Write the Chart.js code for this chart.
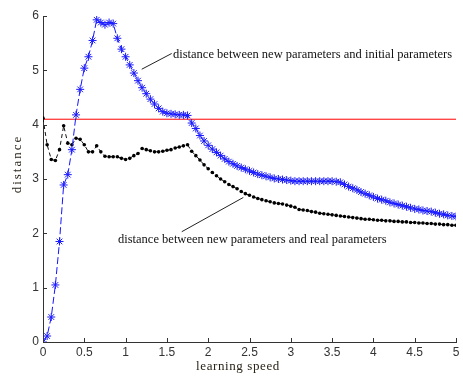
<!DOCTYPE html>
<html>
<head>
<meta charset="utf-8">
<script src="https://cdn.jsdelivr.net/npm/chart.js@4.4.1/dist/chart.umd.min.js"></script>
<style>
  html, body { margin: 0; padding: 0; background: #fff; }
  canvas { display: block; }
</style>
</head>
<body>
<canvas id="chartDistance" width="463" height="378"></canvas>
<script>
// learning speed sampled every 0.05 from 0 to 5
var speeds = Array.from({ length: 101 }, function (_, i) { return Math.round(i * 5) / 100; });

var initialDist = [
  0.00, 0.11, 0.46, 1.05, 1.85, 2.89, 3.08, 3.54, 4.18, 4.65,
  5.04, 5.25, 5.55, 5.93, 5.88, 5.84, 5.88, 5.86, 5.59, 5.39,
  5.25, 5.10, 4.95, 4.81, 4.68, 4.57, 4.47, 4.38, 4.30, 4.24,
  4.21, 4.20, 4.19, 4.18, 4.18, 4.17, 4.03, 3.93, 3.80, 3.70,
  3.62, 3.55, 3.49, 3.43, 3.37, 3.32, 3.28, 3.24, 3.21, 3.18,
  3.15, 3.12, 3.09, 3.07, 3.05, 3.03, 3.01, 3.00, 2.99, 2.98,
  2.97, 2.96, 2.96, 2.96, 2.96, 2.96, 2.96, 2.96, 2.96, 2.96,
  2.96, 2.95, 2.94, 2.90, 2.86, 2.83, 2.80, 2.76, 2.73, 2.70,
  2.67, 2.64, 2.62, 2.60, 2.57, 2.55, 2.53, 2.51, 2.49, 2.47,
  2.45, 2.44, 2.42, 2.41, 2.40, 2.38, 2.36, 2.35, 2.33, 2.32,
  2.31
];

var realDist = [
  4.12, 3.63, 3.36, 3.34, 3.54, 3.98, 3.66, 3.63, 3.75, 3.73,
  3.63, 3.50, 3.50, 3.61, 3.50, 3.42, 3.41, 3.41, 3.41, 3.38,
  3.36, 3.38, 3.43, 3.47, 3.56, 3.54, 3.52, 3.50, 3.50, 3.51,
  3.53, 3.54, 3.57, 3.59, 3.61, 3.63, 3.51, 3.43, 3.35, 3.26,
  3.19, 3.12, 3.06, 3.00, 2.95, 2.90, 2.86, 2.82, 2.77, 2.73,
  2.70, 2.67, 2.64, 2.62, 2.60, 2.58, 2.56, 2.55, 2.54, 2.52,
  2.50, 2.48, 2.44, 2.43, 2.42, 2.40, 2.39, 2.37, 2.36, 2.35,
  2.34, 2.33, 2.32, 2.31, 2.30, 2.29, 2.28, 2.27, 2.26, 2.26,
  2.25, 2.24, 2.24, 2.23, 2.23, 2.22, 2.22, 2.21, 2.21, 2.20,
  2.20, 2.19, 2.19, 2.18, 2.18, 2.17, 2.17, 2.16, 2.16, 2.15,
  2.15
];

var refLevel = 4.1;

var xTicks = [0, 0.5, 1, 1.5, 2, 2.5, 3, 3.5, 4, 4.5, 5];
var yTicks = [0, 1, 2, 3, 4, 5, 6];

var labelInitial = "distance between new parameters and initial parameters";
var labelReal = "distance between new parameters and real parameters";

function toPoints(xs, ys) {
  return xs.map(function (x, i) { return { x: x, y: ys[i] }; });
}

var serif = '"Liberation Serif", "DejaVu Serif", serif';
var sans = '"Liberation Sans", Arial, sans-serif';

// inside tick marks, axis titles and the two callouts
var extras = {
  id: 'extras',
  afterDatasetsDraw: function (chart) {
    var ctx = chart.ctx, area = chart.chartArea;
    var x = chart.scales.x, y = chart.scales.y;
    ctx.save();
    ctx.strokeStyle = '#333';
    ctx.lineWidth = 1;
    ctx.beginPath();
    xTicks.forEach(function (v) {
      var px = Math.round(x.getPixelForValue(v)) + 0.5;
      ctx.moveTo(px, area.bottom);
      ctx.lineTo(px, area.bottom - 4);
    });
    yTicks.forEach(function (v) {
      var py = Math.round(y.getPixelForValue(v)) + 0.5;
      ctx.moveTo(area.left, py);
      ctx.lineTo(area.left + 4, py);
    });
    ctx.stroke();

    // leader lines
    ctx.strokeStyle = '#222';
    ctx.beginPath();
    ctx.moveTo(x.getPixelForValue(1.195), y.getPixelForValue(5.02));
    ctx.lineTo(x.getPixelForValue(1.558), y.getPixelForValue(5.31));
    ctx.moveTo(x.getPixelForValue(1.68), y.getPixelForValue(2.03));
    ctx.lineTo(x.getPixelForValue(2.425), y.getPixelForValue(2.66));
    ctx.stroke();

    ctx.fillStyle = '#111';
    ctx.font = '12.5px ' + serif;
    ctx.textBaseline = 'middle';
    ctx.textAlign = 'left';
    ctx.fillText(labelInitial, x.getPixelForValue(1.574), y.getPixelForValue(5.29));
    ctx.fillText(labelReal, x.getPixelForValue(0.908), y.getPixelForValue(1.88));

    // axis titles
    ctx.fillStyle = '#2a2418';
    ctx.font = '13px ' + serif;
    ctx.textAlign = 'center';
    ctx.letterSpacing = '0.6px';
    ctx.fillText('learning speed', 238, 367);
    ctx.letterSpacing = '2px';
    ctx.translate(18, 164);
    ctx.rotate(-Math.PI / 2);
    ctx.fillText('distance', 0, 0);
    ctx.restore();
  }
};

var distance = document.getElementById('chartDistance').getContext('2d');
var chart = new Chart(distance, {
  type: 'line',
  data: {
    datasets: [{
      label: "initial parameters",
      data: toPoints(speeds, initialDist),
      borderColor: '#1515ff',
      borderWidth: 1,
      borderDash: [7, 3],
      pointStyle: 'star',
      pointRadius: 4,
      pointBorderColor: '#1a1aff',
      pointBorderWidth: 1,
      pointBackgroundColor: '#1a1aff',
      tension: 0
    }, {
      label: "real parameters",
      data: toPoints(speeds, realDist),
      borderColor: '#111',
      borderWidth: 1,
      borderDash: [4, 3],
      pointRadius: 1.8,
      pointBorderWidth: 0,
      pointBackgroundColor: '#000',
      tension: 0
    }, {
      label: "reference",
      data: [{ x: 0, y: refLevel }, { x: 5, y: refLevel }],
      borderColor: '#ff0000',
      borderWidth: 1,
      pointRadius: 0
    }]
  },
  options: {
    responsive: false,
    animation: false,
    layout: { padding: { top: 16, right: 7, left: 0, bottom: 0 } },
    plugins: {
      legend: { display: false },
      tooltip: { enabled: false }
    },
    scales: {
      x: {
        type: 'linear',
        min: 0,
        max: 5,
        afterBuildTicks: function (s) { s.ticks = xTicks.map(function (v) { return { value: v }; }); },
        afterFit: function (s) { s.height = 36; },
        grid: { display: false, drawTicks: false },
        border: { display: true, color: '#333', width: 1 },
        ticks: {
          padding: 3,
          color: '#333',
          font: { family: sans, size: 12 },
          maxRotation: 0,
          callback: function (v) { return String(v); }
        }
      },
      y: {
        type: 'linear',
        min: 0,
        max: 6,
        afterBuildTicks: function (s) { s.ticks = yTicks.map(function (v) { return { value: v }; }); },
        afterFit: function (s) { s.width = 43; },
        grid: { display: false, drawTicks: false },
        border: { display: true, color: '#333', width: 1 },
        ticks: {
          padding: 4,
          color: '#333',
          font: { family: sans, size: 12 },
          callback: function (v) { return String(v); }
        }
      }
    }
  },
  plugins: [extras]
});
</script>
</body>
</html>
